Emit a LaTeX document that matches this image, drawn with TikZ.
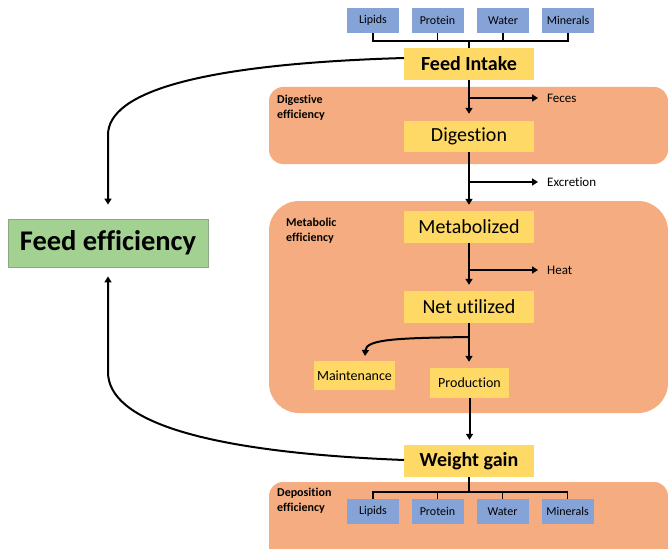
\documentclass[tikz,border=0pt]{standalone}
\usepackage{fontspec}
\setmainfont[Ligatures={NoCommon}]{Carlito}
\usetikzlibrary{arrows.meta,calc}
\definecolor{regionc}{HTML}{F4AC80}
\definecolor{yellowc}{HTML}{FFD966}
\definecolor{bluec}{HTML}{86A3D8}
\definecolor{greenc}{HTML}{A3D192}
\definecolor{greenb}{HTML}{8AA883}
\tikzset{
  region/.style={fill=regionc,draw=none},
  stage/.style={fill=yellowc,draw=none,inner sep=0pt,minimum width=130pt,minimum height=32pt,font=\fontsize{20}{22}\selectfont},
  stagebold/.style={stage,font=\fontsize{20}{22}\selectfont\bfseries},
  substage/.style={fill=yellowc,draw=none,inner sep=0pt,minimum height=30pt,font=\fontsize{14}{16}\selectfont},
  comp/.style={fill=bluec,draw=none,inner sep=0pt,minimum width=52pt,minimum height=25pt,font=\fontsize{12}{14}\selectfont},
  loss/.style={anchor=west,inner sep=0pt,font=\fontsize{13}{15}\selectfont},
  efflabel/.style={anchor=north west,align=left,inner sep=0pt,font=\fontsize{12}{14.5}\selectfont\bfseries},
  arr/.style={line width=2pt,-{Triangle[length=6pt,width=7pt]}},
  plain/.style={line width=2pt},
  brk/.style={line width=1.1pt}
}
\begin{document}
\begin{tikzpicture}[x=1pt,y=-1pt]
\useasboundingbox (0,0) rectangle (668,548);
\clip (0,0) rectangle (668,548);
% regions
\fill[region,rounded corners=14pt] (269,87) rectangle (668,164);
\fill[region,rounded corners=30pt] (269,201) rectangle (668,413);
\fill[region,rounded corners=14pt] (269,482) rectangle (668,570);
\node[efflabel] (lbldig) at (277,95) {Digestive\\efficiency};
\node[efflabel] (lblmet) at (286,218) {Metabolic\\efficiency};
\node[efflabel] (lbldep) at (277,488) {Deposition\\efficiency};
% top components
\node[comp] (tl) at (373,20.5) {Lipids};
\node[comp] (tp) at (437.5,20.5) {Protein};
\node[comp] (tw) at (503,20.5) {Water};
\node[comp] (tm) at (568,20.5) {Minerals};
% stages
\node[stagebold] (fi) at (469,64) {Feed Intake};
\node[stage,minimum height=31pt] (dig) at (469,136.5) {Digestion};
\node[stage] (met) at (469,227) {Metabolized};
\node[stage] (nu) at (469,307) {Net utilized};
\node[substage,minimum width=81pt,minimum height=29pt] (mai) at (354.5,375.5) {Maintenance};
\node[substage,minimum width=79pt] (pro) at (469.5,383) {Production};
\node[stagebold] (wg) at (469,461) {Weight gain};
% bottom components
\node[comp] (bl) at (373,511.5) {Lipids};
\node[comp] (bp) at (437.5,511.5) {Protein};
\node[comp] (bw) at (502.5,511.5) {Water};
\node[comp] (bm) at (567.5,511.5) {Minerals};
% feed efficiency
\node[fill=greenc,draw=greenb,line width=0.8pt,inner sep=0pt,minimum width=200pt,minimum height=48pt,font=\fontsize{28.5}{30}\selectfont\bfseries] (fe) at (108,243) {Feed efficiency};
% losses
\node[loss] (fec) at (547,98) {Feces};
\node[loss] (exc) at (547,182) {Excretion};
\node[loss] (heat) at (547,270) {Heat};
% top bracket
\coordinate (tbar) at (469,41);
\draw[brk] (tl.south) -- (tl.south |- tbar) -- (tm.south |- tbar) -- (tm.south);
\draw[brk] (tp.south) -- (tp.south |- tbar);
\draw[brk] (tw.south) -- (tw.south |- tbar);
\draw[brk] (tbar) -- (fi.north);
% bottom bracket
\coordinate (bbar) at (469,492);
\draw[brk] (bl.north) -- (bl.north |- bbar) -- (bm.north |- bbar) -- (bm.north);
\draw[brk] (bp.north) -- (bp.north |- bbar);
\draw[brk] (bw.north) -- (bw.north |- bbar);
\draw[brk] (wg.south) -- (bbar);
% main chain
\draw[arr,shorten >=7pt] (fi.south) -- (dig.north);
\draw[arr,shorten >=9pt] (fi.south |- fec.west) -- (fec.west);
\draw[arr,shorten >=6pt] (dig.south) -- (met.north);
\draw[arr,shorten >=9pt] (dig.south |- exc.west) -- (exc.west);
\draw[arr,shorten >=6pt] (met.south) -- (nu.north);
\draw[arr,shorten >=9pt] (met.south |- heat.west) -- (heat.west);
\draw[arr,shorten >=6pt] (nu.south) -- (nu.south |- pro.north);
\coordinate (split) at (469,337);
\coordinate (maitop) at (365,356);
\draw[arr] (split) .. controls (400,338) and (366,339) .. (maitop);
\draw[arr,shorten >=5pt] (pro.south) -- (pro.south |- wg.north);
% feedback curves
\coordinate (fistart) at (404,58);
\coordinate (wgstart) at (404,460);
\draw[arr,shorten >=14pt] (fistart) .. controls (200,64) and (108,92) .. (108,135) -- (fe.north);
\draw[arr,shorten >=9pt] (wgstart) .. controls (200,452) and (108,420) .. (108,372) -- (fe.south);
\end{tikzpicture}
\end{document}
